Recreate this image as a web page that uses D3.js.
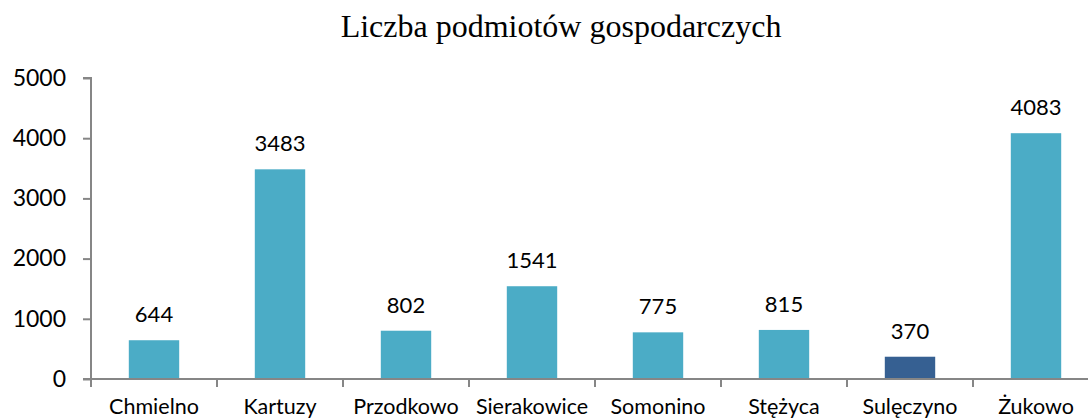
<!DOCTYPE html>
<html><head><meta charset="utf-8">
<script src="https://cdn.jsdelivr.net/npm/d3@7"></script>
<style>body{margin:0;background:#fff;overflow:hidden}</style>
</head><body>
<svg id="c" width="1088" height="419"></svg>
<script>
const title = "Liczba podmiotów gospodarczych";
const categories = ["Chmielno","Kartuzy","Przodkowo","Sierakowice","Somonino","Stężyca","Sulęczyno","Żukowo"];
const values = [644,3483,802,1541,775,815,370,4083];
const highlight = ["Sulęczyno"];
const yTicks = [0,1000,2000,3000,4000,5000];

const svg = d3.select("#c");
const x0 = 91, x1 = 1099, yTop = 78, yBot = 379;
const x = d3.scaleBand().domain(categories).range([x0, x1]).paddingInner(0.6).paddingOuter(0.3);
const y = d3.scaleLinear().domain([0,5000]).range([yBot, yTop]);
const font = "Lato, 'Open Sans', sans-serif";

svg.append("text").attr("x", 561).attr("y", 37).attr("text-anchor","middle")
  .attr("font-family","'Liberation Serif', 'Times New Roman', serif").attr("font-size", 32)
  .attr("fill","#000").text(title);

// bars
svg.selectAll("rect.bar").data(categories).join("rect").attr("class","bar")
  .attr("x", d => x(d)).attr("width", x.bandwidth())
  .attr("y", (d,i) => y(values[i])).attr("height", (d,i) => y(0) - y(values[i]))
  .attr("fill", d => highlight.includes(d) ? "#366092" : "#4bacc6");

// value labels
svg.selectAll("text.val").data(categories).join("text").attr("class","val")
  .attr("x", d => x(d) + x.bandwidth()/2).attr("y", (d,i) => y(values[i]) - 18)
  .attr("text-anchor","middle").attr("font-family", font).attr("font-size", 22)
  .attr("fill","#000").text((d,i) => values[i]);

// y axis
const yAxis = d3.axisLeft(y).tickValues(yTicks).tickSize(8).tickPadding(17).tickFormat(d3.format("d"));
const gy = svg.append("g").attr("transform", `translate(${x0},0)`).call(yAxis);
gy.select(".domain").attr("stroke","#868686").attr("stroke-width",2).attr("d", `M-8,${yTop}H0V${yBot}`);
gy.selectAll(".tick line").attr("stroke","#868686").attr("stroke-width",2);
gy.selectAll(".tick text").attr("font-family", font).attr("font-size", 23).attr("fill","#000");

// x axis
const xb = d3.scaleLinear().domain([0, categories.length]).range([x0, x1]);
const gx = svg.append("g").attr("transform", `translate(0,${yBot})`);
gx.append("line").attr("x1", x0 - 8).attr("x2", x1).attr("y1",0).attr("y2",0).attr("stroke","#868686").attr("stroke-width",2);
gx.selectAll("line.t").data(d3.range(categories.length+1)).join("line").attr("class","t")
  .attr("x1", d => xb(d)).attr("x2", d => xb(d)).attr("y1",0).attr("y2",8)
  .attr("stroke","#868686").attr("stroke-width",2);
gx.selectAll("text").data(categories).join("text")
  .attr("x", d => x(d) + x.bandwidth()/2).attr("y", 35).attr("text-anchor","middle")
  .attr("font-family", font).attr("font-size", 21.5).attr("fill","#000").text(d => d);
</script>
</body></html>
